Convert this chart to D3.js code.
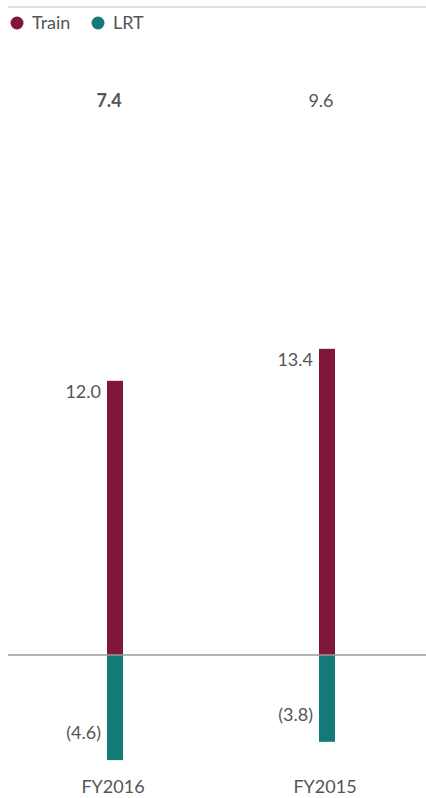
<!DOCTYPE html>
<html>
<head>
<meta charset="utf-8">
<script src="https://cdn.jsdelivr.net/npm/d3@7"></script>
<style>
  html, body { margin: 0; padding: 0; background: #fff; }
  svg { display: block; }
</style>
</head>
<body>
<div id="chart"></div>
<script>
const years = ['FY2016', 'FY2015'];
const train = [12.0, 13.4];
const lrt = [-4.6, -3.8];
const totals = [7.4, 9.6];
const seriesNames = ['Train', 'LRT'];

const COLORS = { Train: '#80163a', LRT: '#137a77' };
const TEXT = '#555';
const FONT = 'Lato, "Open Sans", sans-serif';
const FS = 18;

const W = 426, H = 798;
const svg = d3.select('#chart').append('svg')
  .attr('width', W).attr('height', H);

// scales
const x = d3.scalePoint().domain(years).range([115, 327]);
const pxPerUnit = 22.85;
const zeroY = 655;
const y = d3.scaleLinear().domain([0, 10]).range([zeroY, zeroY - 10 * pxPerUnit]);
const barW = 16;

// top rule
svg.append('line')
  .attr('x1', 8).attr('x2', W).attr('y1', 7).attr('y2', 7)
  .attr('stroke', '#c4c4c4').attr('stroke-width', 1);

// legend
const legX = [17, 98];
const leg = svg.append('g');
seriesNames.forEach((name, i) => {
  leg.append('circle').attr('cx', legX[i]).attr('cy', 23).attr('r', 6.5)
    .attr('fill', COLORS[name]);
  leg.append('text').text(name)
    .attr('x', legX[i] + 15).attr('y', 29)
    .attr('fill', TEXT).attr('font-size', FS).attr('font-family', FONT);
});

// totals
svg.selectAll('.total').data(totals).join('text')
  .attr('class', 'total')
  .text(d => d.toFixed(1))
  .attr('x', (d, i) => x(years[i]) - 6)
  .attr('y', 107)
  .attr('text-anchor', 'middle')
  .attr('fill', TEXT).attr('font-size', FS).attr('font-family', FONT)
  .attr('font-weight', (d, i) => i === 0 ? 'bold' : 'normal');

// train bars
svg.selectAll('.train').data(train).join('rect')
  .attr('class', 'train')
  .attr('x', (d, i) => x(years[i]) - barW / 2)
  .attr('y', d => y(d))
  .attr('width', barW)
  .attr('height', d => y(0) - y(d))
  .attr('fill', COLORS.Train);

// lrt bars
svg.selectAll('.lrt').data(lrt).join('rect')
  .attr('class', 'lrt')
  .attr('x', (d, i) => x(years[i]) - barW / 2)
  .attr('y', y(0))
  .attr('width', barW)
  .attr('height', d => y(d) - y(0))
  .attr('fill', COLORS.LRT);

// zero line
svg.append('line')
  .attr('x1', 8).attr('x2', W).attr('y1', zeroY).attr('y2', zeroY)
  .attr('stroke', '#9a9a9a').attr('stroke-width', 1.5);

// value labels
svg.selectAll('.train-lbl').data(train).join('text')
  .attr('class', 'train-lbl')
  .text(d => d.toFixed(1))
  .attr('x', (d, i) => x(years[i]) - barW / 2 - 6)
  .attr('y', d => y(d) + 17)
  .attr('text-anchor', 'end')
  .attr('fill', TEXT).attr('font-size', FS).attr('font-family', FONT);

svg.selectAll('.lrt-lbl').data(lrt).join('text')
  .attr('class', 'lrt-lbl')
  .text(d => `(${Math.abs(d).toFixed(1)})`)
  .attr('x', (d, i) => x(years[i]) - barW / 2 - 6)
  .attr('y', d => y(d) - 21)
  .attr('text-anchor', 'end')
  .attr('fill', TEXT).attr('font-size', FS).attr('font-family', FONT);

// category labels
svg.selectAll('.cat').data(years).join('text')
  .attr('class', 'cat')
  .text(d => d)
  .attr('x', d => x(d) - 2)
  .attr('y', 793)
  .attr('text-anchor', 'middle')
  .attr('fill', TEXT).attr('font-size', FS).attr('font-family', FONT);
</script>
</body>
</html>
